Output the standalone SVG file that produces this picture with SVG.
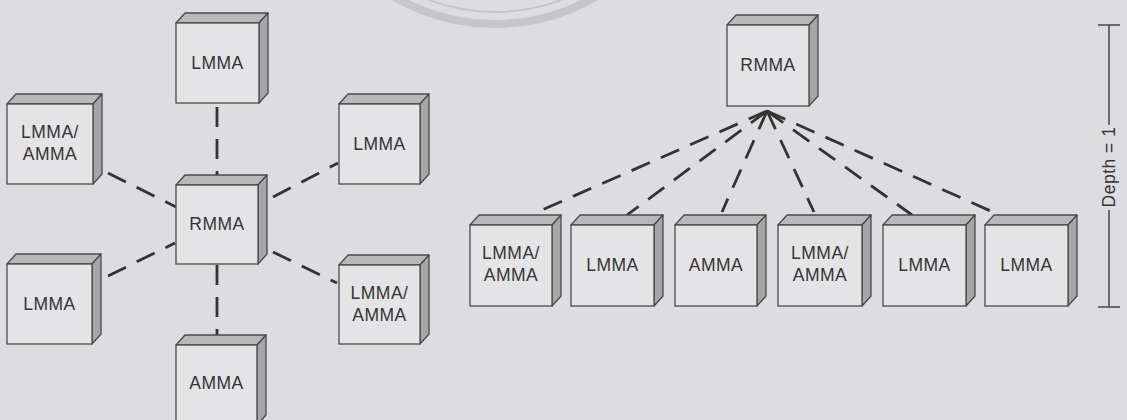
<svg xmlns="http://www.w3.org/2000/svg" width="1127" height="420" viewBox="0 0 1127 420">
<style>
.bg{fill:#dddde1}
.front{fill:#e4e4e6;stroke:#4a4a4a;stroke-width:1.3}
.top{fill:#b8b8ba;stroke:#4a4a4a;stroke-width:1.3;stroke-linejoin:round}
.side{fill:#a6a6a8;stroke:#4a4a4a;stroke-width:1.3;stroke-linejoin:round}
.lbl{font-family:"Liberation Sans",Arial,sans-serif;font-size:17.5px;letter-spacing:0.5px;fill:#353535;text-anchor:middle}
.dash{stroke:#333;stroke-width:2.8;stroke-dasharray:20 12;fill:none}
.bar{stroke:#444;stroke-width:1.5;fill:none}
.wm{fill:none;stroke:#c6c6ca}
</style>
<rect class="bg" x="0" y="0" width="1127" height="420"/>
<g id="watermark">
<circle class="wm" cx="495" cy="-176" r="200" stroke-width="8"/>
<circle class="wm" cx="495" cy="-176" r="188" stroke-width="2"/>
</g>
<g id="connectors">
<line class="dash" x1="217" y1="107" x2="217" y2="184"/>
<line class="dash" x1="108" y1="173" x2="176" y2="207"/>
<line class="dash" x1="273" y1="197" x2="338" y2="163"/>
<line class="dash" x1="108" y1="276" x2="175" y2="243"/>
<line class="dash" x1="273" y1="252" x2="337" y2="283"/>
<line class="dash" x1="217" y1="265" x2="217" y2="344"/>
<line class="dash" x1="767" y1="111" x2="542" y2="210"/>
<line class="dash" x1="767" y1="111" x2="627" y2="215"/>
<line class="dash" x1="767" y1="111" x2="722" y2="212"/>
<line class="dash" x1="767" y1="111" x2="814" y2="212"/>
<line class="dash" x1="767" y1="111" x2="912" y2="215"/>
<line class="dash" x1="767" y1="111" x2="995" y2="213"/>
</g>
<g id="star-top" transform="translate(176,23)">
<polygon class="top" points="0,0 9,-10 92,-10 83,0"/><polygon class="side" points="83,0 92,-10 92,70 83,80"/><rect class="front" x="0" y="0" width="83" height="80"/>
<text class="lbl" x="41.5" y="45.5">LMMA</text>
</g>
<g id="star-left1" transform="translate(7,104)">
<polygon class="top" points="0,0 9,-10 95,-10 86,0"/><polygon class="side" points="86,0 95,-10 95,70 86,80"/><rect class="front" x="0" y="0" width="86" height="80"/>
<text class="lbl" x="43" y="34">LMMA/</text><text class="lbl" x="43" y="56">AMMA</text>
</g>
<g id="star-right1" transform="translate(339,104)">
<polygon class="top" points="0,0 9,-10 90,-10 81,0"/><polygon class="side" points="81,0 90,-10 90,70 81,80"/><rect class="front" x="0" y="0" width="81" height="80"/>
<text class="lbl" x="40.5" y="45.5">LMMA</text>
</g>
<g id="star-center" transform="translate(176,185)">
<polygon class="top" points="0,0 9,-10 91,-10 82,0"/><polygon class="side" points="82,0 91,-10 91,69 82,79"/><rect class="front" x="0" y="0" width="82" height="79"/>
<text class="lbl" x="41" y="45">RMMA</text>
</g>
<g id="star-left2" transform="translate(7,264)">
<polygon class="top" points="0,0 9,-10 94,-10 85,0"/><polygon class="side" points="85,0 94,-10 94,70 85,80"/><rect class="front" x="0" y="0" width="85" height="80"/>
<text class="lbl" x="42.5" y="45.5">LMMA</text>
</g>
<g id="star-right2" transform="translate(339,265)">
<polygon class="top" points="0,0 9,-10 90,-10 81,0"/><polygon class="side" points="81,0 90,-10 90,69 81,79"/><rect class="front" x="0" y="0" width="81" height="79"/>
<text class="lbl" x="40.5" y="33.5">LMMA/</text><text class="lbl" x="40.5" y="55.5">AMMA</text>
</g>
<g id="star-bottom" transform="translate(176,345)">
<polygon class="top" points="0,0 9,-10 90,-10 81,0"/><polygon class="side" points="81,0 90,-10 90,70 81,80"/><rect class="front" x="0" y="0" width="81" height="80"/>
<text class="lbl" x="40.5" y="43.5">AMMA</text>
</g>
<g id="tree-root" transform="translate(727,25)">
<polygon class="top" points="0,0 9,-10 91,-10 82,0"/><polygon class="side" points="82,0 91,-10 91,71 82,81"/><rect class="front" x="0" y="0" width="82" height="81"/>
<text class="lbl" x="41" y="46">RMMA</text>
</g>
<g id="tree-1" transform="translate(470,225)">
<polygon class="top" points="0,0 9,-10 91,-10 82,0"/><polygon class="side" points="82,0 91,-10 91,71 82,81"/><rect class="front" x="0" y="0" width="82" height="81"/>
<text class="lbl" x="41" y="34">LMMA/</text><text class="lbl" x="41" y="56">AMMA</text>
</g>
<g id="tree-2" transform="translate(571,225)">
<polygon class="top" points="0,0 9,-10 92,-10 83,0"/><polygon class="side" points="83,0 92,-10 92,71 83,81"/><rect class="front" x="0" y="0" width="83" height="81"/>
<text class="lbl" x="41.5" y="46">LMMA</text>
</g>
<g id="tree-3" transform="translate(675,225)">
<polygon class="top" points="0,0 9,-10 91,-10 82,0"/><polygon class="side" points="82,0 91,-10 91,71 82,81"/><rect class="front" x="0" y="0" width="82" height="81"/>
<text class="lbl" x="41" y="46">AMMA</text>
</g>
<g id="tree-4" transform="translate(778,225)">
<polygon class="top" points="0,0 9,-10 93,-10 84,0"/><polygon class="side" points="84,0 93,-10 93,71 84,81"/><rect class="front" x="0" y="0" width="84" height="81"/>
<text class="lbl" x="42" y="34">LMMA/</text><text class="lbl" x="42" y="56">AMMA</text>
</g>
<g id="tree-5" transform="translate(883,225)">
<polygon class="top" points="0,0 9,-10 92,-10 83,0"/><polygon class="side" points="83,0 92,-10 92,71 83,81"/><rect class="front" x="0" y="0" width="83" height="81"/>
<text class="lbl" x="41.5" y="46">LMMA</text>
</g>
<g id="tree-6" transform="translate(985,225)">
<polygon class="top" points="0,0 9,-10 92,-10 83,0"/><polygon class="side" points="83,0 92,-10 92,71 83,81"/><rect class="front" x="0" y="0" width="83" height="81"/>
<text class="lbl" x="41.5" y="46">LMMA</text>
</g>
<g id="depth-bar">
<line class="bar" x1="1098" y1="25" x2="1120" y2="25"/>
<line class="bar" x1="1109" y1="25" x2="1109" y2="125"/>
<line class="bar" x1="1109" y1="210" x2="1109" y2="307"/>
<line class="bar" x1="1098" y1="307" x2="1120" y2="307"/>
<text class="lbl" transform="translate(1115,167) rotate(-90)" x="0" y="0">Depth = 1</text>
</g>
</svg>
